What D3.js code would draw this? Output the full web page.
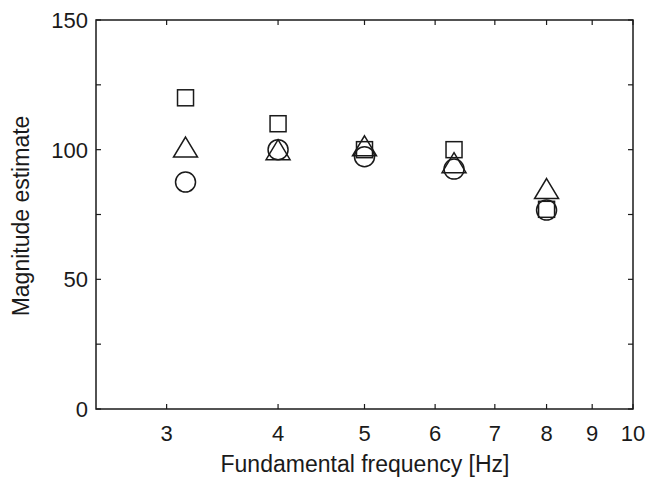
<!DOCTYPE html>
<html>
<head>
<meta charset="utf-8">
<script src="https://cdn.jsdelivr.net/npm/d3@7"></script>
<style>
  body { margin: 0; background: #fff; }
  text { font-family: "Liberation Sans", Arial, Helvetica, sans-serif; fill: #1a1a1a; }
</style>
</head>
<body>
<div id="chart"></div>
<script>
// Daten
const freqs = [3.15, 4, 5, 6.3, 8];
const squareVals = [120, 110, 100, 100, 77];
const triangleVals = [101, 100, 101.5, 95, 85];
const circleVals = [87.5, 100, 97.3, 92.5, 76.7];

const xTicks = [3, 4, 5, 6, 7, 8, 9, 10];
const yTicks = [0, 25, 50, 75, 100, 125, 150];
const yLabels = [0, 50, 100, 150];

const W = 649, H = 478;
const plotL = 96, plotR = 633, plotT = 20, plotB = 409;

const svg = d3.select("#chart").append("svg")
    .attr("width", W)
    .attr("height", H);

const x = d3.scaleLog().domain([2.5, 10]).range([plotL, plotR]);
const y = d3.scaleLinear().domain([0, 150]).range([plotB, plotT]);

// Rahmen
svg.append("rect")
    .attr("x", plotL).attr("y", plotT)
    .attr("width", plotR - plotL).attr("height", plotB - plotT)
    .attr("fill", "none")
    .attr("stroke", "#1a1a1a")
    .attr("stroke-width", 1.5);

const tickLen = 5;

// x-Ticks unten und oben (nach innen)
xTicks.forEach(t => {
    svg.append("line")
        .attr("x1", x(t)).attr("x2", x(t))
        .attr("y1", plotB).attr("y2", plotB - tickLen)
        .attr("stroke", "#1a1a1a").attr("stroke-width", 1.2);
    svg.append("line")
        .attr("x1", x(t)).attr("x2", x(t))
        .attr("y1", plotT).attr("y2", plotT + tickLen)
        .attr("stroke", "#1a1a1a").attr("stroke-width", 1.2);
    svg.append("text")
        .attr("x", x(t))
        .attr("y", 441)
        .attr("text-anchor", "middle")
        .style("font-size", "22px")
        .text(t);
});

// y-Ticks links und rechts
yTicks.forEach(t => {
    svg.append("line")
        .attr("x1", plotL).attr("x2", plotL + tickLen)
        .attr("y1", y(t)).attr("y2", y(t))
        .attr("stroke", "#1a1a1a").attr("stroke-width", 1.2);
    svg.append("line")
        .attr("x1", plotR).attr("x2", plotR - tickLen)
        .attr("y1", y(t)).attr("y2", y(t))
        .attr("stroke", "#1a1a1a").attr("stroke-width", 1.2);
});

yLabels.forEach(t => {
    svg.append("text")
        .attr("x", 88)
        .attr("y", y(t) + 8)
        .attr("text-anchor", "end")
        .style("font-size", "22px")
        .text(t);
});

// Achsenbeschriftungen
svg.append("text")
    .attr("x", 365)
    .attr("y", 472)
    .attr("text-anchor", "middle")
    .style("font-size", "23px")
    .text("Fundamental frequency [Hz]");

svg.append("text")
    .attr("transform", `translate(29, 216) rotate(-90)`)
    .attr("text-anchor", "middle")
    .style("font-size", "23px")
    .text("Magnitude estimate");

// Marker
const markerStyle = sel => sel
    .attr("fill", "none")
    .attr("stroke", "#1a1a1a")
    .attr("stroke-width", 1.5);

const sq = 16;
svg.selectAll(".sq").data(freqs.map((f, i) => [f, squareVals[i]]))
    .enter().append("rect")
    .attr("class", "sq")
    .attr("x", d => x(d[0]) - sq / 2)
    .attr("y", d => y(d[1]) - sq / 2)
    .attr("width", sq).attr("height", sq)
    .call(markerStyle);

const tw = 24, th = 20;
svg.selectAll(".tri").data(freqs.map((f, i) => [f, triangleVals[i]]))
    .enter().append("path")
    .attr("class", "tri")
    .attr("d", d => {
        const cx = x(d[0]), cy = y(d[1]);
        return `M${cx},${cy - th / 2}L${cx + tw / 2},${cy + th / 2}L${cx - tw / 2},${cy + th / 2}Z`;
    })
    .call(markerStyle);

svg.selectAll(".circ").data(freqs.map((f, i) => [f, circleVals[i]]))
    .enter().append("circle")
    .attr("class", "circ")
    .attr("cx", d => x(d[0]))
    .attr("cy", d => y(d[1]))
    .attr("r", 10)
    .call(markerStyle);
</script>
</body>
</html>
